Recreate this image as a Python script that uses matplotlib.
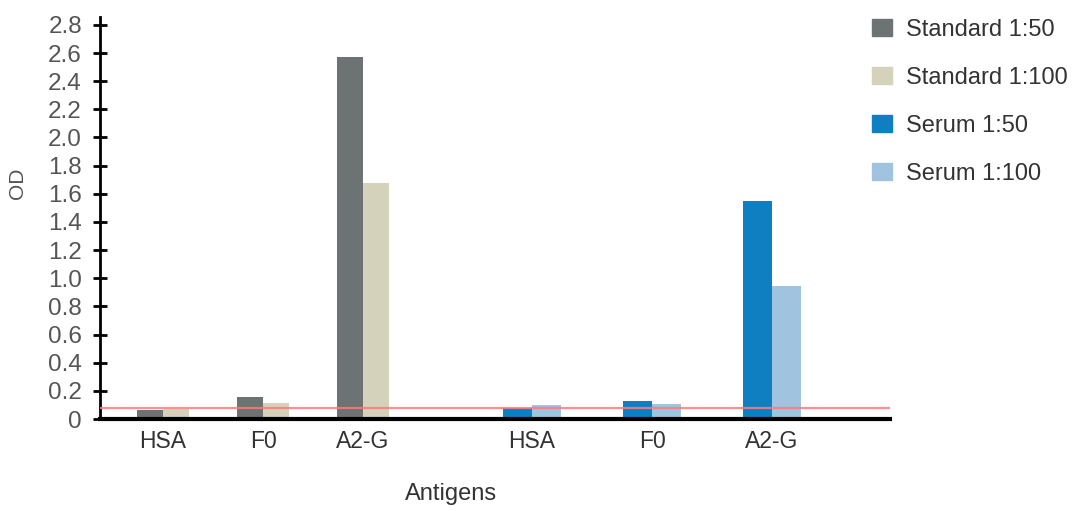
import numpy as np
import matplotlib.pyplot as plt
from matplotlib.patches import Patch

plt.rcParams['font.family'] = ['Liberation Sans', 'DejaVu Sans']

antigens = ['HSA', 'F0', 'A2-G']
std_50 = [0.065, 0.157, 2.57]
std_100 = [0.068, 0.115, 1.68]
serum_50 = [0.08, 0.128, 1.55]
serum_100 = [0.097, 0.107, 0.945]
cutoff = 0.08
yticks = [0, 0.2, 0.4, 0.6, 0.8, 1.0, 1.2, 1.4, 1.6, 1.8, 2.0, 2.2, 2.4, 2.6, 2.8]
ytick_labels = ['0'] + ['%.1f' % v for v in yticks[1:]]

c_std50 = '#6d7372'
c_std100 = '#d4d2ba'
c_ser50 = '#0e80c1'
c_ser100 = '#a0c4df'

# group centres (standard group, then serum group after a gap)
x_std = np.arange(3) * 1.0
x_ser = 3.69 + np.arange(3) * 1.2
w_std = 0.26
w_ser = 0.29

fig = plt.figure(figsize=(10.78, 5.11), dpi=100)
ax = fig.add_axes([0.0928, 0.180, 0.7328, 0.787])

ax.bar(x_std - w_std/2, std_50, w_std, color=c_std50, zorder=2)
ax.bar(x_std + w_std/2, std_100, w_std, color=c_std100, zorder=2)
ax.bar(x_ser - w_ser/2, serum_50, w_ser, color=c_ser50, zorder=2)
ax.bar(x_ser + w_ser/2, serum_100, w_ser, color=c_ser100, zorder=2)

ax.axhline(cutoff, color='#ff7a7a', lw=1.6, alpha=0.85, zorder=3)

ax.set_xlim(-0.63, 7.27)
ax.set_ylim(0, 2.857)
ax.set_xticks(np.concatenate([x_std, x_ser]))
ax.set_xticklabels(antigens + antigens)
ax.set_yticks(yticks)
ax.set_yticklabels(ytick_labels)

for s in ['top', 'right']:
    ax.spines[s].set_visible(False)
ax.spines['bottom'].set_linewidth(3)
ax.spines['left'].set_linewidth(2)
ax.tick_params(axis='x', length=0, pad=8, labelsize=16.5, labelcolor='#333333')
ax.tick_params(axis='y', direction='inout', length=10, width=2, labelsize=17.5,
               labelcolor='#555555', pad=8)

ax.set_ylabel('OD', fontsize=15, color='#555555')
ax.yaxis.set_label_coords(-0.092, 0.587)
ax.set_xlabel('Antigens', fontsize=17, color='#333333')
ax.xaxis.set_label_coords(0.444, -0.158)

handles = [Patch(color=c_std50, label='Standard 1:50'),
           Patch(color=c_std100, label='Standard 1:100'),
           Patch(color=c_ser50, label='Serum 1:50'),
           Patch(color=c_ser100, label='Serum 1:100')]
fig.legend(handles=handles, loc='upper left', bbox_to_anchor=(0.789, 1.005),
           frameon=False, fontsize=17, handlelength=0.85, handleheight=0.75,
           handletextpad=0.6, labelspacing=1.1, labelcolor='#333333')

fig.savefig('out.png', dpi=100)
